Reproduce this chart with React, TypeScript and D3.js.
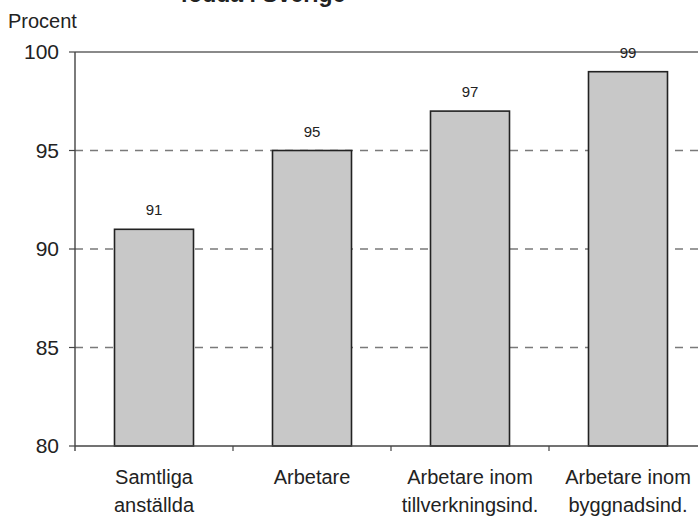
import React from "react";
import * as d3 from "d3";

const categories: string[][] = [
  ["Samtliga", "anställda"],
  ["Arbetare"],
  ["Arbetare inom", "tillverkningsind."],
  ["Arbetare inom", "byggnadsind."],
];
const values: number[] = [91, 95, 97, 99];
const yTicks: number[] = [80, 85, 90, 95, 100];
const title = "födda i Sverige";
const yLabel = "Procent";

const W = 698;
const H = 516;
const FONT = "Liberation Sans, Arial, sans-serif";

export default function App() {
  const ids = categories.map((_, i) => String(i));
  const x = d3.scaleBand<string>().domain(ids).range([75, 75 + 4 * 158]).paddingInner(0.5).paddingOuter(0.25);
  const y = d3.scaleLinear().domain([80, 100]).range([446, 52]);
  const bw = x.bandwidth();
  const step = x.step();
  const left = 75;
  return (
    <svg width={W} height={H} style={{ position: "absolute", left: 0, top: 0, background: "#fff" }} fontFamily={FONT}>
      <text x={263} y={2} textAnchor="middle" fontSize={23} fontWeight="bold" fill="#222">{title}</text>
      <text x={8} y={28} fontSize={20} fill="#222">{yLabel}</text>
      {yTicks.map((t) => (
        <g key={t}>
          {t !== 80 && (
            <line x1={left} x2={W} y1={y(t)} y2={y(t)} stroke={t === 100 ? "#8a8a8a" : "#7a7a7a"} strokeWidth={t === 100 ? 1.8 : 1.3}
              strokeDasharray={t === 100 ? undefined : "8,7"} />
          )}
          <line x1={69} x2={left} y1={y(t)} y2={y(t)} stroke="#444" strokeWidth={1.2} />
          <text x={59} y={y(t) + 7} textAnchor="end" fontSize={21} fill="#222">{t}</text>
        </g>
      ))}
      {values.map((v, i) => {
        const bx = x(String(i))!;
        return (
          <g key={i}>
            <rect x={bx} y={y(v)} width={bw} height={y(80) - y(v)} fill="#c8c8c8" stroke="#222" strokeWidth={1.6} />
            <text x={bx + bw / 2} y={y(v) - 14} textAnchor="middle" fontSize={15} fill="#222">{v}</text>
            {categories[i].map((line, j) => (
              <text key={j} x={bx + bw / 2} y={484 + j * 28} textAnchor="middle" fontSize={20} fill="#222">{line}</text>
            ))}
          </g>
        );
      })}
      <line x1={left} x2={left} y1={y(100)} y2={y(80) + 5} stroke="#444" strokeWidth={1.4} />
      <line x1={left} x2={W} y1={y(80)} y2={y(80)} stroke="#444" strokeWidth={1.4} />
      {ids.map((id, i) => (
        <line key={id} x1={left + (i + 1) * step} x2={left + (i + 1) * step} y1={y(80)} y2={y(80) + 5} stroke="#444" strokeWidth={1.2} />
      ))}
    </svg>
  );
}
